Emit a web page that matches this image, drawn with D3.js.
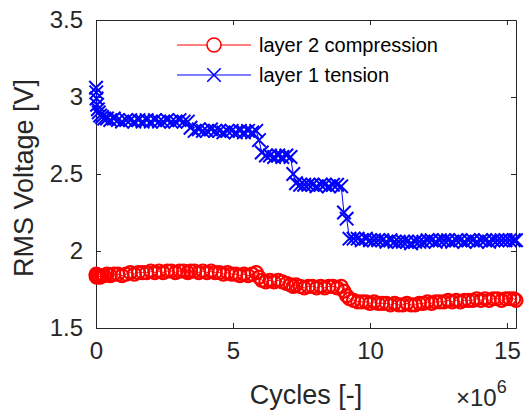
<!DOCTYPE html>
<meta charset="utf-8">
<style>
  body { margin: 0; background: #fff; }
  svg { font-family: "Liberation Sans", Arial, sans-serif; }
  .axis path, .axis line { stroke: #262626; }
  .axis text { fill: #262626; }
</style>
<body>
<svg width="524" height="411"></svg>
<script src="https://cdnjs.cloudflare.com/ajax/libs/d3/7.8.5/d3.min.js"></script>
<script>
// cycles in units of 1e6
var cycles = [
  0, 0.01, 0.02, 0.04, 0.07, 0.1, 0.15, 0.22, 0.3, 0.4,
  0.52, 0.65, 0.8, 0.95, 1.1, 1.25, 1.4, 1.55, 1.7, 1.85,
  2.0, 2.15, 2.3, 2.45, 2.6, 2.75, 2.9, 3.05, 3.2, 3.35,
  3.45, 3.6, 3.75, 3.9, 4.05, 4.2, 4.35, 4.5, 4.65, 4.8,
  4.95, 5.1, 5.25, 5.4, 5.55, 5.7, 5.85, 5.95, 6.05, 6.2,
  6.35, 6.5, 6.65, 6.8, 6.95, 7.1, 7.2, 7.3, 7.45, 7.6,
  7.75, 7.9, 8.05, 8.2, 8.35, 8.5, 8.65, 8.8, 8.95, 9.05,
  9.15, 9.25, 9.4, 9.55, 9.7, 9.85, 10.0, 10.15, 10.3, 10.45,
  10.6, 10.75, 10.9, 11.05, 11.2, 11.35, 11.5, 11.65, 11.8, 11.95,
  12.1, 12.25, 12.4, 12.55, 12.7, 12.85, 13.0, 13.15, 13.3, 13.45,
  13.6, 13.75, 13.9, 14.05, 14.2, 14.35, 14.5, 14.65, 14.8, 14.95,
  15.1, 15.25, 15.33
];

// layer 2 compression (red, circles)
var layer2Compression = [
  1.84, 1.85, 1.83, 1.84, 1.84, 1.84, 1.83, 1.84, 1.84, 1.85,
  1.84, 1.85, 1.85, 1.84, 1.85, 1.86, 1.85, 1.86, 1.86, 1.86,
  1.87, 1.86, 1.87, 1.86, 1.87, 1.87, 1.86, 1.87, 1.87, 1.86,
  1.87, 1.87, 1.86, 1.87, 1.86, 1.87, 1.86, 1.86, 1.85, 1.86,
  1.85, 1.85, 1.84, 1.85, 1.84, 1.85, 1.86, 1.83, 1.81, 1.80,
  1.81, 1.80, 1.81, 1.80, 1.79, 1.78, 1.77, 1.78, 1.77, 1.76,
  1.77, 1.77, 1.76, 1.77, 1.76, 1.77, 1.77, 1.76, 1.77, 1.74,
  1.71, 1.69, 1.68, 1.67, 1.67, 1.67, 1.66, 1.67, 1.66, 1.66,
  1.66, 1.65, 1.66, 1.65, 1.65, 1.66, 1.65, 1.65, 1.66, 1.66,
  1.67, 1.66, 1.67, 1.67, 1.67, 1.68, 1.67, 1.68, 1.67, 1.68,
  1.68, 1.68, 1.69, 1.68, 1.69, 1.68, 1.69, 1.69, 1.68, 1.69,
  1.69, 1.69, 1.68
];

// layer 1 tension (blue, crosses)
var layer1Tension = [
  3.06, 3.03, 2.99, 2.95, 2.92, 2.90, 2.88, 2.87, 2.86, 2.86,
  2.85, 2.86, 2.85, 2.84, 2.85, 2.85, 2.84, 2.85, 2.84, 2.85,
  2.84, 2.85, 2.84, 2.84, 2.85, 2.84, 2.84, 2.85, 2.84, 2.84,
  2.80, 2.78, 2.79, 2.78, 2.78, 2.79, 2.78, 2.78, 2.77, 2.78,
  2.78, 2.77, 2.78, 2.77, 2.78, 2.77, 2.78, 2.72, 2.64, 2.62,
  2.62, 2.61, 2.62, 2.61, 2.62, 2.61, 2.50, 2.44, 2.43, 2.43,
  2.43, 2.43, 2.42, 2.43, 2.43, 2.42, 2.43, 2.43, 2.42, 2.25,
  2.21, 2.08, 2.08, 2.08, 2.07, 2.08, 2.07, 2.07, 2.07, 2.07,
  2.06, 2.07, 2.06, 2.06, 2.06, 2.06, 2.05, 2.06, 2.06, 2.06,
  2.07, 2.07, 2.06, 2.07, 2.07, 2.07, 2.06, 2.07, 2.07, 2.06,
  2.07, 2.07, 2.06, 2.07, 2.07, 2.06, 2.07, 2.07, 2.07, 2.07,
  2.07, 2.07, 2.07
];

var xTicks = [0, 5, 10, 15];
var yTicks = [1.5, 2, 2.5, 3, 3.5];
var seriesNames = ["layer 2 compression", "layer 1 tension"];

const svg = d3.select("svg");
const mLeft = 96, mRight = 516, mTop = 20, mBottom = 328;

const x = d3.scaleLinear().domain([0, 15.33]).range([mLeft, mRight]);
const y = d3.scaleLinear().domain([1.5, 3.5]).range([mBottom, mTop]);

// axes (box with inward ticks on all sides)
svg.append("g").attr("class", "axis")
  .attr("transform", `translate(0,${mBottom})`)
  .call(d3.axisBottom(x).tickValues(xTicks).tickSize(-5).tickPadding(14).tickSizeOuter(0).tickFormat(d3.format("d")))
  .call(g => g.selectAll("text").style("font-size", "24px"));
svg.append("g").attr("class", "axis")
  .attr("transform", `translate(0,${mTop})`)
  .call(d3.axisTop(x).tickValues(xTicks).tickSize(-5).tickSizeOuter(0).tickFormat(""));
svg.append("g").attr("class", "axis")
  .attr("transform", `translate(${mLeft},0)`)
  .call(d3.axisLeft(y).tickValues(yTicks).tickSize(-5).tickPadding(13).tickSizeOuter(0).tickFormat(d3.format("")))
  .call(g => g.selectAll("text").style("font-size", "24px"));
svg.append("g").attr("class", "axis")
  .attr("transform", `translate(${mRight},0)`)
  .call(d3.axisRight(y).tickValues(yTicks).tickSize(-5).tickSizeOuter(0).tickFormat(""));

// axis labels
svg.append("text")
  .attr("x", 306).attr("y", 404)
  .attr("text-anchor", "middle")
  .style("font-size", "27px").attr("fill", "#262626")
  .text("Cycles [-]");
svg.append("text")
  .attr("transform", "translate(33,178) rotate(-90)")
  .attr("text-anchor", "middle")
  .style("font-size", "27px").attr("fill", "#262626")
  .text("RMS Voltage [V]");

const expo = svg.append("text")
  .attr("x", 456).attr("y", 406)
  .style("font-size", "24px").attr("fill", "#262626");
expo.append("tspan").text("\u00d710");
expo.append("tspan").attr("dy", -13).style("font-size", "18px").text("6");

// series
const red = cycles.map((c, i) => [c, layer2Compression[i]]);
const blue = cycles.map((c, i) => [c, layer1Tension[i]]);
const line = d3.line().x(d => x(d[0])).y(d => y(d[1]));

svg.append("path").datum(red)
  .attr("d", line).attr("fill", "none").attr("stroke", "#ff0000").attr("stroke-width", 1);
svg.append("g").selectAll("circle").data(red).join("circle")
  .attr("cx", d => x(d[0])).attr("cy", d => y(d[1])).attr("r", 6.5)
  .attr("fill", "none").attr("stroke", "#ff0000").attr("stroke-width", 2.2);

svg.append("path").datum(blue)
  .attr("d", line).attr("fill", "none").attr("stroke", "#0000ff").attr("stroke-width", 1);
const cross = d3.symbol().type(d3.symbolX).size(120);
svg.append("g").selectAll("path").data(blue).join("path")
  .attr("transform", d => `translate(${x(d[0])},${y(d[1])})`)
  .attr("d", cross)
  .attr("fill", "none").attr("stroke", "#0000ff").attr("stroke-width", 2);

// legend
const legend = svg.append("g");
const colors = ["#ff0000", "#0000ff"];
seriesNames.forEach((name, i) => {
  const ly = 45 + i * 30;
  legend.append("line").attr("x1", 177).attr("x2", 251).attr("y1", ly).attr("y2", ly)
    .attr("stroke", colors[i]).attr("stroke-width", 1);
  if (i === 0) {
    legend.append("circle").attr("cx", 214).attr("cy", ly).attr("r", 7)
      .attr("fill", "#fff").attr("stroke", colors[i]).attr("stroke-width", 1.6);
  } else {
    legend.append("path").attr("transform", `translate(214,${ly})`).attr("d", cross)
      .attr("fill", "none").attr("stroke", colors[i]).attr("stroke-width", 1.6);
  }
  legend.append("text").attr("x", 259).attr("y", ly + 7)
    .style("font-size", "20px").attr("fill", "#000").text(name);
});
</script>
</body>
